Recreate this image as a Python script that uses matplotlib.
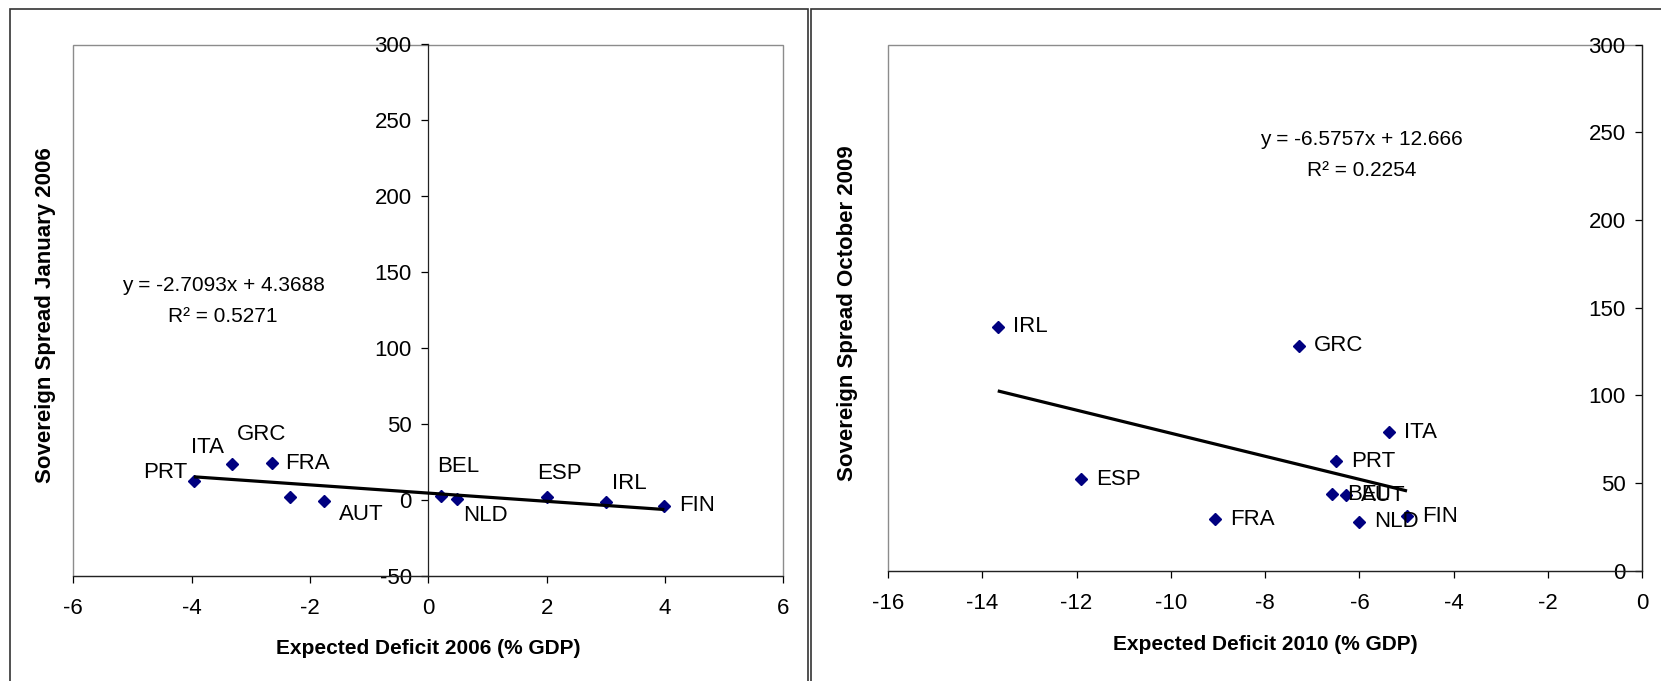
import matplotlib
matplotlib.use('Agg')
from matplotlib import pyplot as plt
from matplotlib.patches import Rectangle
import numpy as np

plt.rcParams['font.family'] = ['Liberation Sans', 'DejaVu Sans']
plt.rcParams['axes.unicode_minus'] = False
NARROW = ['Liberation Sans Narrow', 'Liberation Sans', 'DejaVu Sans']

# left panel: January 2006 spreads vs expected 2006 deficit
countries_06 = ['PRT', 'ITA', 'GRC', 'FRA', 'AUT', 'BEL', 'NLD', 'ESP', 'IRL', 'FIN']
deficit_06 = [-3.96, -3.31, -2.64, -2.33, -1.76, 0.22, 0.49, 2.00, 3.01, 3.99]
spread_06 = [12.6, 23.4, 24.5, 1.6, -0.6, 2.7, 0.3, 2.0, -1.5, -4.1]
slope_06, icept_06, r2_06 = -2.7093, 4.3688, 0.5271

# right panel: October 2009 spreads vs expected 2010 deficit
countries_09 = ['IRL', 'GRC', 'ITA', 'PRT', 'ESP', 'BEL', 'AUT', 'FRA', 'NLD', 'FIN']
deficit_10 = [-13.67, -7.29, -5.37, -6.50, -11.90, -6.58, -6.29, -9.07, -6.00, -4.99]
spread_09 = [139.1, 128.4, 78.9, 62.3, 52.3, 43.7, 42.9, 29.3, 28.0, 31.0]
slope_09, icept_09, r2_09 = -6.5757, 12.666, 0.2254

xticks_06 = [-6, -4, -2, 0, 2, 4, 6]
yticks_06 = [-50, 0, 50, 100, 150, 200, 250, 300]
xticks_09 = [-16, -14, -12, -10, -8, -6, -4, -2, 0]
yticks_09 = [0, 50, 100, 150, 200, 250, 300]

# label offsets in pixels (left panel labels were moved by hand in the original)
offs_06 = [(-51, 8), (-41, 17), (-35, 28), (-5, 34), (15, -14),
           (-4, 29), (6, -16), (-10, 23), (6, 19), (15, 0)]
offs_09 = [(15, 0)] * len(countries_09)

W, H = 1661, 681
fig = plt.figure(figsize=(W / 100, H / 100), dpi=100)

# outer chart frames
fig.patches.append(Rectangle((9.5 / W, -0.1), (808.3 - 9.5) / W, 1.1 - 8.8 / H,
                             transform=fig.transFigure, fill=False, ec='#333333', lw=1.2))
fig.patches.append(Rectangle((811 / W, -0.1), 1.0, 1.1 - 8.8 / H,
                             transform=fig.transFigure, fill=False, ec='#333333', lw=1.2))


def make_panel(rect, xs, ys, names, offs, slope, icept, r2, xlim, ylim, xticks, yticks,
               xlabel, ylabel, eq_pos, ylab_x, xlab_y):
    ax = fig.add_axes(rect)
    ax.set_xlim(xlim)
    ax.set_ylim(ylim)
    ax.patch.set_edgecolor('#8c8c8c')
    ax.patch.set_linewidth(1.0)
    for s in ['top', 'right']:
        ax.spines[s].set_visible(False)
    ax.spines['left'].set_position(('data', 0))
    ax.spines['left'].set_color('#222222')
    ax.spines['bottom'].set_color('#222222')
    ax.spines['left'].set_linewidth(0.9)
    ax.spines['bottom'].set_linewidth(0.9)
    ax.set_xticks(xticks)
    ax.set_yticks(yticks)
    ax.tick_params(axis='y', direction='out', length=5, width=0.9, pad=7)
    ax.tick_params(axis='x', direction='out', length=5, width=0.9, pad=11)
    for lab in ax.get_xticklabels() + ax.get_yticklabels():
        lab.set_family(NARROW)
        lab.set_fontsize(16)

    ax.plot(xs, ys, linestyle='none', marker='D', markersize=6.5, color='#000080', zorder=3)
    xl = np.array([min(xs), max(xs)])
    ax.plot(xl, slope * xl + icept, color='black', lw=2.3, zorder=4, solid_capstyle='butt')

    for name, x, y, (dx, dy) in zip(names, xs, ys, offs):
        ax.annotate(name, (x, y), xytext=(dx, dy), textcoords='offset pixels',
                    ha='left', va='center', fontsize=16, family=NARROW, zorder=5)

    ax.text(eq_pos[0], eq_pos[1], f'y = {slope}x + {icept}', transform=ax.transAxes,
            ha='center', va='center', fontsize=15)
    ax.text(eq_pos[0], eq_pos[1] - 0.06, f'R² = {r2}', transform=ax.transAxes,
            ha='center', va='center', fontsize=15)

    ax.set_xlabel(xlabel, fontsize=15, fontweight='bold')
    ax.xaxis.set_label_coords(0.5, xlab_y)
    ax.set_ylabel(ylabel, fontsize=16, fontweight='bold')
    ax.yaxis.set_label_coords(ylab_x, 0.49)
    return ax


make_panel([73.3 / W, 1 - 575.6 / H, 710 / W, 531.1 / H],
           deficit_06, spread_06, countries_06, offs_06, slope_06, icept_06, r2_06,
           (-6, 6), (-50, 300), xticks_06, yticks_06,
           'Expected Deficit 2006 (% GDP)', 'Sovereign Spread January 2006',
           (0.211, 0.547), -0.025, -0.119)

make_panel([887.9 / W, 1 - 570.7 / H, 754.4 / W, 526 / H],
           deficit_10, spread_09, countries_09, offs_09, slope_09, icept_09, r2_09,
           (-16, 0), (0, 300), xticks_09, yticks_09,
           'Expected Deficit 2010 (% GDP)', 'Sovereign Spread October 2009',
           (0.628, 0.820), -0.040, -0.122)

fig.savefig('out.png', dpi=100)
